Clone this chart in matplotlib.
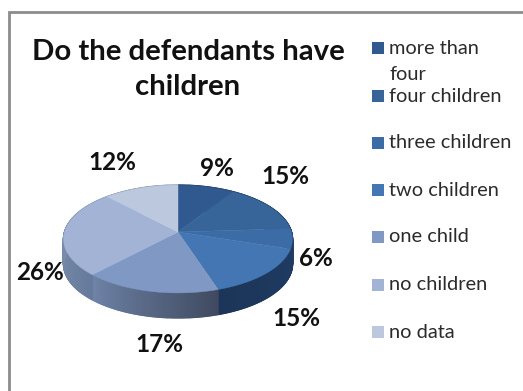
import numpy as np
import matplotlib
matplotlib.use("Agg")
import matplotlib.pyplot as plt
from matplotlib.colors import to_rgb

# values, clockwise from 12 o'clock
categories = ["more than\nfour", "four children", "three children", "two children",
              "one child", "no children", "no data"]
percent = [9, 15, 6, 15, 17, 26, 12]
top_colors = ["#30598f", "#376499", "#3c6ca6", "#4476b4", "#7f98c4", "#a2b3d6", "#bcc8de"]
side_left = ["#203a60", "#203a60", "#203a60", "#1c3558", "#6f84a8", "#8d9cb8", "#8d9cb8"]
side_right = ["#203a60", "#203a60", "#203a60", "#1f3b63", "#3f4a60", "#667b9c", "#8d9cb8"]

label_xy = [(217, 168), (285, 177), (316, 258), (296, 319), (159, 344), (40, 272), (112, 163)]
legend_y = [48, 96, 143, 190, 237, 285, 332]

# pie geometry in pixels
cx, cy = 178, 232
bx, by = 113.5, 53
persp = 0.13
depth = 25

def project(deg):
    # tilted circle with a little perspective, deg is clockwise from the top
    a = np.radians(deg)
    x, y = np.sin(a), np.cos(a)
    w = 1 + persp * y
    return cx + bx * x / w, cy - by * y / w

def mix(c1, c2, t):
    return tuple((1 - t) * np.array(to_rgb(c1)) + t * np.array(to_rgb(c2)))

plt.rcParams['font.family'] = ['Lato', 'DejaVu Sans']
fig = plt.figure(figsize=(5.23, 3.91), dpi=100)
ax = fig.add_axes([0, 0, 1, 1])
ax.set_xlim(0, 523)
ax.set_ylim(391, 0)
ax.axis("off")

# frame, only left and top are in the crop
ax.plot([9, 9, 523], [391, 12, 12], color="#8c8c8c", lw=2, solid_joinstyle="miter")

edges = 3.6 * np.cumsum([0] + percent)

# side wall first, thin strips so the shading runs along the rim
for i in range(len(percent)):
    a0, a1 = edges[i], edges[i + 1]
    steps = max(int(a1 - a0), 2) * 2
    tt = np.linspace(a0, a1, steps + 1)
    for j in range(steps):
        xa, ya = project(tt[j])
        xb, yb = project(tt[j + 1])
        col = mix(side_right[i], side_left[i], j / steps)
        ax.fill([xa, xb, xb, xa], [ya, yb, yb + depth, ya + depth], color=col, lw=1.0, zorder=2)

# top faces
for i in range(len(percent)):
    tt = np.linspace(edges[i], edges[i + 1], 80)
    px, py = project(tt)
    ax.fill(np.r_[cx, px], np.r_[cy, py], color=top_colors[i], lw=0.3, zorder=3)

ax.text(188, 52, "Do the defendants have", ha="center", va="center",
        fontsize=21.2, fontweight="bold", color="#111111")
ax.text(188, 87, "children", ha="center", va="center",
        fontsize=21.2, fontweight="bold", color="#111111")

for val, (lx, ly) in zip(percent, label_xy):
    ax.text(lx, ly, "%d%%" % val, ha="center", va="center", fontsize=17.5,
            fontweight="bold", color="#111111")

for i, name in enumerate(categories):
    ax.fill([372, 384, 384, 372], np.array([-6, -6, 6, 6]) + legend_y[i],
            color=top_colors[i], lw=0)
    for k, line in enumerate(name.split("\n")):
        ax.text(389, legend_y[i] + 27 * k, line, ha="left", va="center", fontsize=14.4, color="#2b2b2b")

fig.savefig("out.png", dpi=100)
